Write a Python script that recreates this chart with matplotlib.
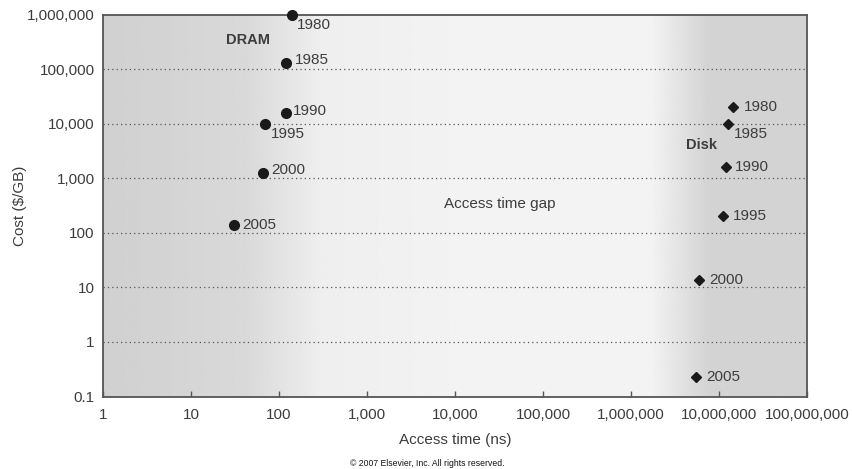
import numpy as np
import matplotlib
matplotlib.use('Agg')
import matplotlib.pyplot as plt
from matplotlib.ticker import FuncFormatter

plt.rcParams['font.family'] = ['Liberation Sans', 'DejaVu Sans']

# DRAM: access time (ns), cost ($/GB)
dram_years = ['1980', '1985', '1990', '1995', '2000', '2005']
dram_time = [139, 120, 120, 70, 66, 31]
dram_cost = [1000000, 127000, 16000, 9800, 1250, 138]

# Disk
disk_years = ['1980', '1985', '1990', '1995', '2000', '2005']
disk_time = [14.3e6, 12.6e6, 12.0e6, 11.2e6, 5.9e6, 5.5e6]
disk_cost = [20600, 10000, 1600, 200, 13.6, 0.23]

x_ticks = [1, 10, 100, 1e3, 1e4, 1e5, 1e6, 1e7, 1e8]
y_ticks = [0.1, 1, 10, 100, 1e3, 1e4, 1e5, 1e6]

# label offsets in pixels (dx, dy up)
dram_off = [(5, -10), (9, 3), (7, 2), (6, -10), (8, 3), (8, 0)]
disk_off = [(11, 0), (6, -10), (9, 0), (10, 0), (10, 0), (10, 0)]

txt_col = '#3d3d3d'

fig = plt.figure(figsize=(8.53, 4.69), dpi=100)
ax = fig.add_axes([103 / 853, 1 - 396.5 / 469, 704 / 853, (396.5 - 14.5) / 469])

# background gradient
stops_x = [0, 0.2, 0.31, 0.5, 0.78, 0.86, 1]
stops_v = [0.815, 0.85, 0.935, 0.95, 0.95, 0.83, 0.83]
g = np.interp(np.linspace(0, 1, 600), stops_x, stops_v)
ax.imshow(g[np.newaxis, :], cmap='gray', vmin=0, vmax=1, aspect='auto',
          extent=[0, 1, 0, 1], transform=ax.transAxes, zorder=0)

ax.set_xscale('log')
ax.set_yscale('log')
ax.set_xlim(1, 1e8)
ax.set_ylim(0.1, 1e6)

for yv in y_ticks[1:-1]:
    ax.axhline(yv, color='#555555', linestyle=(0, (1, 2.5)), linewidth=0.9, zorder=1)

ax.plot(dram_time, dram_cost, 'o', color='#1a1a1a', markersize=7, zorder=3, clip_on=False)
ax.plot(disk_time, disk_cost, 'D', color='#1a1a1a', markersize=5.5, zorder=3, clip_on=False)

for t, c, yr, (dx, dy) in zip(dram_time, dram_cost, dram_years, dram_off):
    ax.annotate(yr, (t, c), xytext=(dx * 0.72, dy * 0.72), textcoords='offset points',
                ha='left', va='center', fontsize=11, color=txt_col, zorder=4)
for t, c, yr, (dx, dy) in zip(disk_time, disk_cost, disk_years, disk_off):
    ax.annotate(yr, (t, c), xytext=(dx * 0.72, dy * 0.72), textcoords='offset points',
                ha='left', va='center', fontsize=11, color=txt_col, zorder=4)

ax.text(44, 3.4e5, 'DRAM', fontsize=10.5, fontweight='bold', color=txt_col, ha='center', va='center')
ax.text(6.4e6, 4000, 'Disk', fontsize=10.5, fontweight='bold', color=txt_col, ha='center', va='center')
ax.text(32000, 330, 'Access time gap', fontsize=11, color=txt_col, ha='center', va='center')

fmt = FuncFormatter(lambda v, p: ('%g' % v) if v < 1 else '{:,}'.format(int(round(v))))
ax.set_xticks(x_ticks)
ax.set_yticks(y_ticks)
ax.xaxis.set_major_formatter(fmt)
ax.yaxis.set_major_formatter(fmt)
ax.minorticks_off()
ax.tick_params(axis='x', direction='in', length=4, width=1, color='#555555',
               labelsize=11, labelcolor=txt_col, pad=8)
ax.tick_params(axis='y', length=0, labelsize=11, labelcolor=txt_col, pad=6)

for s in ax.spines.values():
    s.set_color('#555555')
    s.set_linewidth(1.3)

ax.set_xlabel('Access time (ns)', fontsize=11, color=txt_col, labelpad=8)
ax.set_ylabel('Cost ($/GB)', fontsize=11, color=txt_col)
ax.yaxis.set_label_coords(-(103 - 27) / 704, 0.5)

fig.text(427 / 853, 1 - 463 / 469, '\u00a9 2007 Elsevier, Inc. All rights reserved.',
         fontsize=6.2, ha='center', va='center', color='#111111')

fig.savefig('out.png', dpi=100)
